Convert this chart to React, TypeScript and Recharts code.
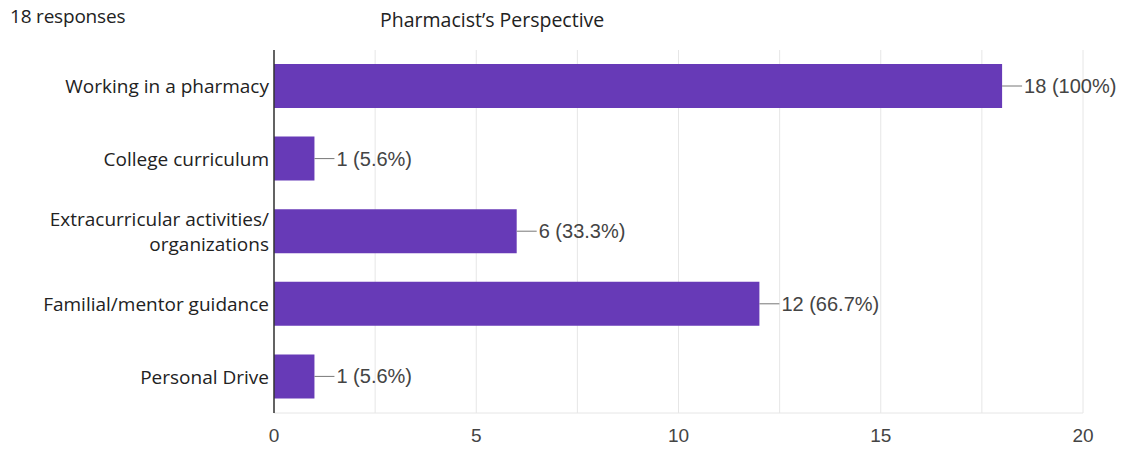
import { Bar, BarChart, CartesianGrid, LabelList, XAxis, YAxis } from 'recharts'

const CATEGORIES = [
  'Working in a pharmacy',
  'College curriculum',
  'Extracurricular activities/\norganizations',
  'Familial/mentor guidance',
  'Personal Drive',
]
const COUNTS = [18, 1, 6, 12, 1]
const PERCENTS = ['100', '5.6', '33.3', '66.7', '5.6']
const X_TICKS = [0, 2.5, 5, 7.5, 10, 12.5, 15, 17.5, 20]

const rows = CATEGORIES.map((name, i) => ({ name, count: COUNTS[i], pct: PERCENTS[i] }))

const BAR = '#673ab7'
const LABEL_FONT = '"Liberation Sans", Arial, sans-serif'
const CAT_FONT = '"Open Sans", sans-serif'

function CategoryTick({ x, y, payload }: any) {
  const lines = String(payload.value).split('\n')
  const lh = 25
  const start = y - ((lines.length - 1) * lh) / 2
  return (
    <text
      x={x + 3}
      y={start}
      textAnchor="end"
      dominantBaseline="central"
      fontFamily={CAT_FONT}
      fontSize={19}
      fill="#222"
    >
      {lines.map((l, i) => (
        <tspan key={i} x={x + 3} y={start + i * lh}>
          {l}
        </tspan>
      ))}
    </text>
  )
}

function ValueLabel(props: any) {
  const { x, y, width, height, index } = props
  const end = x + width
  const cy = y + height / 2
  return (
    <g>
      <line x1={end} x2={end + 20} y1={cy} y2={cy} stroke="#777" strokeWidth={1} />
      <text
        x={end + 22}
        y={cy}
        dominantBaseline="central"
        fontFamily={LABEL_FONT}
        fontSize={20}
        fill="#444"
      >
        {`${COUNTS[index]} (${PERCENTS[index]}%)`}
      </text>
    </g>
  )
}

export default function App() {
  return (
    <div style={{ position: 'absolute', left: 0, top: 0, width: 1126, height: 451, background: '#fff' }}>
      <div
        style={{
          position: 'absolute',
          left: 10,
          top: 3,
          fontFamily: CAT_FONT,
          fontSize: 19,
          letterSpacing: -0.2,
          color: '#222',
        }}
      >
        18 responses
      </div>
      <div
        style={{
          position: 'absolute',
          left: 380,
          top: 6,
          fontFamily: CAT_FONT,
          fontSize: 19.5,
          color: '#222',
        }}
      >
        Pharmacist’s Perspective
      </div>
      <BarChart
        width={1126}
        height={451}
        data={rows}
        layout="vertical"
        margin={{ top: 50, right: 43, bottom: 8, left: 0 }}
      >
        <CartesianGrid horizontal={false} stroke="#e6e6e6" />
        <XAxis
          type="number"
          domain={[0, 20]}
          ticks={X_TICKS}
          interval={0}
          height={30}
          tickLine={false}
          axisLine={{ stroke: '#e6e6e6' }}
          tickFormatter={(v: number) => (v % 5 === 0 ? String(v) : '')}
          tick={{ fontFamily: LABEL_FONT, fontSize: 19, fill: '#444' }}
          tickMargin={10}
        />
        <YAxis
          type="category"
          dataKey="name"
          width={274}
          tickLine={false}
          axisLine={{ stroke: '#333', strokeWidth: 1.5 }}
          tick={<CategoryTick />}
          interval={0}
        />
        <Bar dataKey="count" fill={BAR} barSize={44} isAnimationActive={false}>
          <LabelList dataKey="count" content={<ValueLabel />} />
        </Bar>
      </BarChart>
    </div>
  )
}
